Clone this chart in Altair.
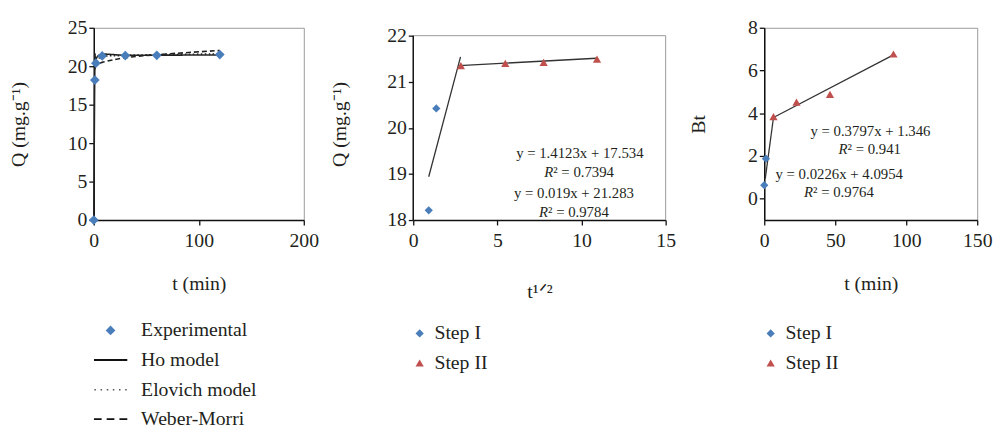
import altair as alt
import pandas as pd

FONT = "Liberation Serif"
TXT = "#231f20"
BLUE = "#4a7ebb"
RED = "#c0504d"
LINE = "#333333"
FS = 20

# ---------------- Panel 1: kinetic models ----------------
exp_t = [0, 1, 2, 8, 30, 60, 120]
exp_q = [0, 18.2, 20.4, 21.34, 21.38, 21.42, 21.52]
ho_t = [0, 1, 2, 8, 30, 60, 120]
ho_q = [0, 19.8, 20.9, 21.55, 21.42, 21.44, 21.46]
elo_t = [1, 2, 8, 30, 60, 120]
elo_q = [19.6, 20.4, 21.25, 21.4, 21.5, 21.6]
wm_t = [1, 2, 8, 30, 60, 120]
wm_q = [19.7, 20.0, 20.5, 21.1, 21.5, 22.05]
legend1 = ["Experimental", "Ho model", "Elovich model", "Weber-Morri"]
models1 = ["Ho model", "Elovich model", "Weber-Morri"]

# ---------------- Panel 2: intraparticle diffusion ----------------
p2_s1_x = [0.92, 1.37]
p2_s1_y = [18.21, 20.42]
p2_s2_x = [2.83, 5.47, 7.75, 10.92]
p2_s2_y = [21.35, 21.40, 21.42, 21.49]
p2_fit1_x = [0.92, 2.81]
p2_fit1_y = [18.94, 21.54]
p2_fit2_x = [2.73, 10.88]
p2_fit2_y = [21.35, 21.51]
p2_eq = ["y = 1.4123x + 17.534", "y = 0.019x + 21.283"]
p2_eq_x = [9.9, 9.55]
p2_eq_y = [19.45, 18.58]
p2_r2 = ["\u00b2 = 0.7394", "\u00b2 = 0.9784"]
p2_r2_x = [8.32, 8.01]
p2_r2_y = [19.05, 18.17]

# ---------------- Panel 3: Boyd plot ----------------
p3_s1_x = [0.0, 1.2]
p3_s1_y = [0.63, 1.87]
p3_s2_x = [6.5, 22.7, 46.3, 91.0]
p3_s2_y = [3.84, 4.52, 4.88, 6.77]
p3_fit1_x = [0.7, 6.5]
p3_fit1_y = [0.94, 3.80]
p3_fit2_x = [6.5, 91.0]
p3_fit2_y = [3.80, 6.73]
p3_eq = ["y = 0.3797x + 1.346", "y = 0.0226x + 4.0954"]
p3_eq_x = [74.8, 52.8]
p3_eq_y = [3.18, 1.17]
p3_r2 = ["\u00b2 = 0.941", "\u00b2 = 0.9764"]
p3_r2_x = [58.7, 34.4]
p3_r2_y = [2.33, 0.32]

steps = ["Step I", "Step II"]

# ---- legend symbol paths (unit square -1..1) ----
diamond_path = "M0,-0.29L0.29,0L0,0.29L-0.29,0Z"
solid_path = "M-1,-0.06H1V0.06H-1Z"
dotted_path = "".join(
    f"M{c-0.045:.3f},-0.045H{c+0.045:.3f}V0.045H{c-0.045:.3f}Z"
    for c in [-0.92, -0.55, -0.18, 0.18, 0.55, 0.92]
)
dashed_path = "".join(
    f"M{a},-0.05H{b}V0.05H{a}Z" for a, b in [(-1, -0.53), (-0.23, 0.23), (0.53, 1)]
)

# ---------------- build panel 1 ----------------
df_exp = pd.DataFrame({"t": exp_t, "Q": exp_q, "series": "Experimental"})
df_models = pd.concat(
    [
        pd.DataFrame({"t": ho_t, "Q": ho_q, "series": "Ho model"}),
        pd.DataFrame({"t": elo_t, "Q": elo_q, "series": "Elovich model"}),
        pd.DataFrame({"t": wm_t, "Q": wm_q, "series": "Weber-Morri"}),
    ]
)

x1 = alt.X("t:Q", scale=alt.Scale(domain=[0, 200], nice=False),
           axis=alt.Axis(values=[0, 100, 200], title="t (min)", titlePadding=23))
y1 = alt.Y("Q:Q", scale=alt.Scale(domain=[0, 25], nice=False),
           axis=alt.Axis(values=[0, 5, 10, 15, 20, 25], title="Q (mg.g\u207b\u00b9)", titlePadding=39))

leg1 = alt.Legend(
    title=None, orient="none", legendX=0, legendY=292, direction="vertical",
    labelFont=FONT, labelFontSize=FS, labelColor=TXT, symbolSize=1156,
    symbolStrokeWidth=0, labelOffset=14, rowPadding=0, clipHeight=30, padding=0,
)

lines1 = alt.Chart(df_models).mark_line(color="#222", strokeWidth=1.6, interpolate="cardinal").encode(
    x=x1, y=y1,
    strokeDash=alt.StrokeDash("series:N", scale=alt.Scale(domain=models1, range=[[1, 0], [1.5, 2.5], [5, 3]]), legend=None),
    detail="series:N",
)
pts1 = alt.Chart(df_exp).mark_point(filled=True, size=1156, opacity=1).encode(
    x=x1, y=y1,
    shape=alt.Shape("series:N", scale=alt.Scale(domain=legend1, range=[diamond_path, solid_path, dotted_path, dashed_path]), legend=leg1),
    color=alt.Color("series:N", scale=alt.Scale(domain=legend1, range=[BLUE, "#111", "#555", "#111"]), legend=leg1),
)
panel1 = alt.layer(lines1, pts1).properties(width=213, height=195)


# ---------------- helpers for panels 2 and 3 ----------------
def step_panel(s1x, s1y, s2x, s2y, f1x, f1y, f2x, f2y, eq, eqx, eqy, r2, r2x, r2y,
               xdom, xvals, xtitle, xtp, ydom, yvals, ytitle, ytp, w, h, legx, legy,
               top_pad=0.0):
    pts = pd.concat([
        pd.DataFrame({"x": s1x, "y": s1y, "step": "Step I"}),
        pd.DataFrame({"x": s2x, "y": s2y, "step": "Step II"}),
    ])
    fits = pd.concat([
        pd.DataFrame({"x": f1x, "y": f1y, "fit": "I"}),
        pd.DataFrame({"x": f2x, "y": f2y, "fit": "II"}),
    ])
    eqs = pd.DataFrame({"x": eqx, "y": eqy, "txt": eq})
    r2s = pd.DataFrame({"x": r2x, "y": r2y, "txt": r2})
    framed = top_pad > 0
    X = alt.X("x:Q", scale=alt.Scale(domain=xdom, nice=False),
              axis=alt.Axis(values=xvals, title=xtitle, titlePadding=xtp))
    Y = alt.Y("y:Q", scale=alt.Scale(domain=[ydom[0], ydom[1] + top_pad], nice=False),
              axis=alt.Axis(values=yvals, title=ytitle, titlePadding=ytp, domain=not framed))
    leg = alt.Legend(title=None, orient="none", legendX=legx, legendY=legy, direction="vertical",
                     labelFont=FONT, labelFontSize=FS, labelColor=TXT, symbolSize=70,
                     symbolStrokeWidth=0, labelOffset=5, rowPadding=10, padding=0)
    layers = []
    if framed:
        fr = pd.DataFrame({"x": [xdom[0], xdom[1], xdom[0]], "x2": [xdom[1], xdom[1], xdom[0]],
                           "y": [ydom[1], ydom[0], ydom[0]], "y2": [ydom[1], ydom[1], ydom[1]],
                           "kind": ["frame", "frame", "axis"]})
        layers.append(alt.Chart(fr).mark_rule().encode(
            x=X, x2="x2:Q", y=Y, y2="y2:Q",
            color=alt.Color("kind:N", scale=alt.Scale(domain=["frame", "axis"], range=["#999999", "#111111"]), legend=None),
            strokeWidth=alt.StrokeWidth("kind:N", scale=alt.Scale(domain=["frame", "axis"], range=[1, 1.5]), legend=None),
        ))
    layers.append(alt.Chart(fits).mark_line(color=LINE, strokeWidth=1.3).encode(x=X, y=Y, detail="fit:N"))
    layers.append(alt.Chart(pts).mark_point(filled=True, size=70, opacity=1).encode(
        x=X, y=Y,
        shape=alt.Shape("step:N", scale=alt.Scale(domain=steps, range=["diamond", "triangle-up"]), legend=leg),
        fill=alt.Fill("step:N", scale=alt.Scale(domain=steps, range=[BLUE, RED]), legend=leg),
    ))
    layers.append(alt.Chart(eqs).mark_text(font=FONT, fontSize=15, color=TXT, align="center", baseline="middle").encode(
        x=X, y=Y, text="txt:N"))
    layers.append(alt.Chart(r2s).mark_text(font=FONT, fontSize=15, fontStyle="italic", color=TXT, align="right", baseline="middle").encode(
        x=X, y=Y, text=alt.value("R")))
    layers.append(alt.Chart(r2s).mark_text(font=FONT, fontSize=15, color=TXT, align="left", baseline="middle").encode(
        x=X, y=Y, text="txt:N"))
    ch = alt.layer(*layers).properties(width=w, height=h)
    if framed:
        ch = ch.properties(view=alt.ViewBackground(stroke="transparent"))
    return ch


# panel 2: plot area 187 px for 4 units, 8 px extra on top so bottoms line up
panel2 = step_panel(p2_s1_x, p2_s1_y, p2_s2_x, p2_s2_y, p2_fit1_x, p2_fit1_y, p2_fit2_x, p2_fit2_y,
                    p2_eq, p2_eq_x, p2_eq_y, p2_r2, p2_r2_x, p2_r2_y,
                    [0, 15], [0, 5, 10, 15], "t\u00b9\u141f\u00b2", 32,
                    [18, 22], [18, 19, 20, 21, 22], "Q (mg.g\u207b\u00b9)", 38,
                    256, 195, -3.5, 300, top_pad=8 / 46.75)

panel3 = step_panel(p3_s1_x, p3_s1_y, p3_s2_x, p3_s2_y, p3_fit1_x, p3_fit1_y, p3_fit2_x, p3_fit2_y,
                    p3_eq, p3_eq_x, p3_eq_y, p3_r2, p3_r2_x, p3_r2_y,
                    [0, 150], [0, 50, 100, 150], "t (min)", 23,
                    [-1, 8], [0, 2, 4, 6, 8], "Bt", 40,
                    216, 195, -3.5, 300)

left = alt.hconcat(panel1, panel2, spacing=9).resolve_scale(
    color="independent", shape="independent", fill="independent", strokeDash="independent", strokeWidth="independent"
).resolve_legend(color="independent", shape="independent", fill="independent")

chart = (
    alt.hconcat(left, panel3, spacing=11)
    .resolve_scale(color="independent", shape="independent", fill="independent", strokeDash="independent", strokeWidth="independent")
    .resolve_legend(color="independent", shape="independent", fill="independent")
    .properties(padding={"left": 0, "top": 6, "right": 0, "bottom": 0}, background="white")
    .configure_axis(
        labelFont=FONT, labelFontSize=FS, labelColor=TXT, labelFlush=False,
        titleFont=FONT, titleFontSize=FS, titleFontWeight="normal", titleColor=TXT,
        domainColor="#111", domainWidth=1.5, tickColor="#111", tickWidth=1.3, tickSize=5,
        grid=False,
    )
    .configure_axisX(labelPadding=6)
    .configure_axisY(labelPadding=2)
    .configure_view(stroke="#999999", strokeWidth=1)
)

chart.save("out.html", embed_options={"renderer": "svg", "actions": False})
